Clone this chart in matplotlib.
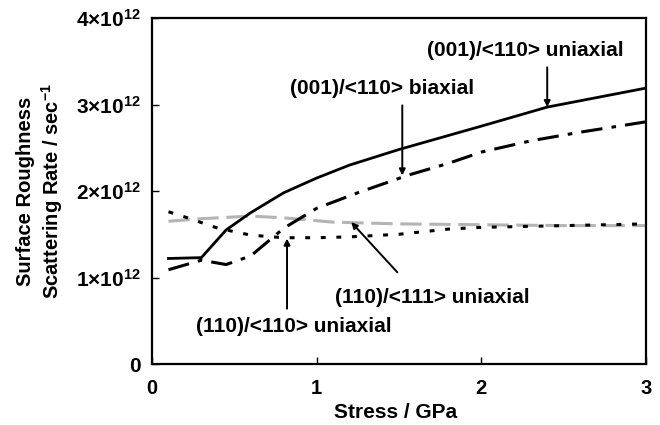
import matplotlib
matplotlib.use("Agg")
import matplotlib.pyplot as plt

plt.rcParams['font.family'] = ['Liberation Sans', 'DejaVu Sans']
plt.rcParams['font.weight'] = 'bold'
plt.rcParams['mathtext.fontset'] = 'custom'
plt.rcParams['mathtext.rm'] = 'Liberation Sans:bold'
plt.rcParams['mathtext.bf'] = 'Liberation Sans:bold'
plt.rcParams['mathtext.it'] = 'Liberation Sans:bold'

# Data (rates in units of 1e12 /sec)
x_001_uni = [0.1, 0.3, 0.45, 0.6, 0.8, 1.0, 1.2, 1.5, 2.0, 2.4, 3.0]
y_001_uni = [1.22, 1.23, 1.55, 1.75, 1.98, 2.15, 2.30, 2.48, 2.75, 2.97, 3.19]

x_001_bi = [0.1, 0.3, 0.45, 0.6, 0.8, 1.0, 1.25, 1.55, 1.8, 2.0, 2.3, 2.6, 3.0]
y_001_bi = [1.09, 1.20, 1.15, 1.25, 1.57, 1.80, 1.98, 2.18, 2.32, 2.45, 2.58, 2.68, 2.80]

x_110_111 = [0.1, 0.3, 0.6, 0.8, 1.1, 1.5, 2.0, 2.5, 3.0]
y_110_111 = [1.65, 1.68, 1.71, 1.69, 1.64, 1.62, 1.61, 1.60, 1.60]

x_110_110 = [0.1, 0.2, 0.4, 0.5, 0.6, 0.8, 1.0, 1.2, 1.5, 1.8, 2.0, 2.5, 3.0]
y_110_110 = [1.76, 1.70, 1.57, 1.53, 1.49, 1.46, 1.46, 1.47, 1.50, 1.56, 1.58, 1.60, 1.62]

x_ticks = [0, 1, 2, 3]
x_ticklabels = ['0', '1', '2', '3']
y_ticks = [0, 1, 2, 3, 4]
y_ticklabels = ['0', r'$1{\times}10^{12}$', r'$2{\times}10^{12}$',
                r'$3{\times}10^{12}$', r'$4{\times}10^{12}$']

fig = plt.figure(figsize=(6.6, 4.25), dpi=100)
ax = fig.add_axes([0.2303, 0.1435, 0.7485, 0.8141])

ax.plot(x_110_111, y_110_111, color='#b4b4b4', lw=2.2, ls=(0, (7, 2.5)))
ax.plot(x_110_110, y_110_110, color='black', lw=2.2, ls=(0, (1.6, 3.5)))
ax.plot(x_001_bi, y_001_bi, color='black', lw=2.2, ls=(0, (7, 3, 1.5, 3)))
ax.plot(x_001_uni, y_001_uni, color='black', lw=2.0, ls='-')

ax.set_xlim(0, 3)
ax.set_ylim(0, 4)
ax.set_xticks(x_ticks)
ax.set_xticklabels(x_ticklabels, fontsize=14.5, fontweight='bold')
ax.set_yticks(y_ticks)
ax.set_yticklabels(y_ticklabels, fontsize=15, fontweight='bold')
ax.tick_params(direction='in', length=5, width=1)
ax.tick_params(axis='x', pad=11)
ax.tick_params(axis='y', pad=8)
for s in ax.spines.values():
    s.set_linewidth(1.6)

ax.set_xlabel('Stress / GPa', fontsize=15, fontweight='bold')
ax.xaxis.set_label_coords(0.494, -0.112)
ax.set_ylabel('Surface Roughness\nScattering Rate / sec$^{-1}$', fontsize=14.5,
              fontweight='bold', linespacing=1.2)
ax.yaxis.label.set_va('center')
ax.yaxis.set_label_coords(-0.225, 0.5)

arrowprops = dict(arrowstyle='-|>', color='black', lw=1.4, mutation_scale=9,
                  shrinkA=0, shrinkB=0)
fs = 15

ax.text(2.27, 3.63, '(001)/<110> uniaxial', fontsize=fs, fontweight='bold',
        ha='center', va='center')
ax.annotate('', xy=(2.40, 2.97), xytext=(2.40, 3.43), arrowprops=arrowprops)

ax.text(1.40, 3.19, '(001)/<110> biaxial', fontsize=fs, fontweight='bold',
        ha='center', va='center')
ax.annotate('', xy=(1.52, 2.18), xytext=(1.52, 2.99), arrowprops=arrowprops)

ax.text(0.86, 0.43, '(110)/<110> uniaxial', fontsize=fs, fontweight='bold',
        ha='center', va='center')
ax.annotate('', xy=(0.82, 1.45), xytext=(0.82, 0.64), arrowprops=arrowprops)

ax.text(1.70, 0.77, '(110)/<111> uniaxial', fontsize=fs, fontweight='bold',
        ha='center', va='center')
ax.annotate('', xy=(1.21, 1.64), xytext=(1.49, 1.06), arrowprops=arrowprops)

fig.savefig('out.png', dpi=100)
